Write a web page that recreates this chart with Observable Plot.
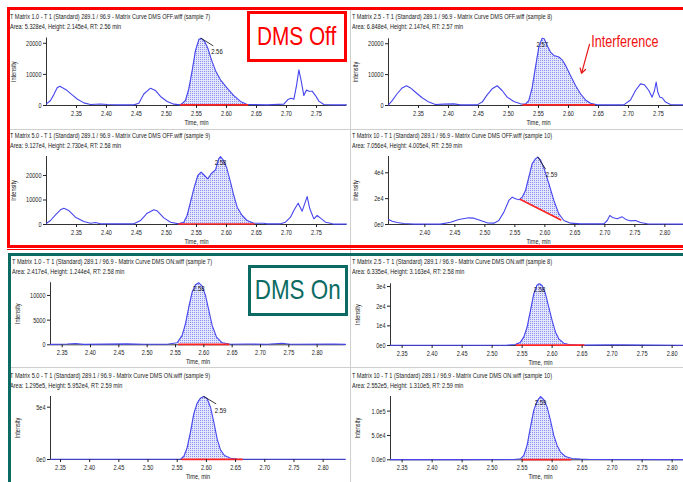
<!DOCTYPE html>
<html>
<head>
<meta charset="utf-8">
<script src="https://cdn.jsdelivr.net/npm/d3@7"></script>
<script src="https://cdn.jsdelivr.net/npm/@observablehq/plot@0.6"></script>
<style>
html,body{margin:0;padding:0;background:#fff;}
#page{position:relative;width:683px;height:482px;overflow:hidden;background:#fff;
 font-family:'Liberation Sans Narrow','Arial Narrow','Liberation Sans',Arial,sans-serif;}
.title{position:absolute;white-space:nowrap;font-size:7.5px;line-height:9.5px;color:#1a1a1a;transform-origin:0 0;}
.title span{display:inline-block;}
.sep{position:absolute;background:#cfcfcf;}
.frame{position:absolute;box-sizing:border-box;}
.tag{position:absolute;box-sizing:border-box;background:#fff;display:flex;align-items:center;justify-content:center;white-space:nowrap;}
.tag span{display:inline-block;transform:scaleX(0.8);transform-origin:50% 50%;}
</style>
</head>
<body>
<svg width="0" height="0" style="position:absolute">
 <defs>
  <pattern id="hatch" width="2" height="2" patternUnits="userSpaceOnUse">
   <rect width="2" height="2" fill="#e4e6fd"></rect>
   <rect width="1" height="1" fill="#8a91ee"></rect>
  </pattern>
 </defs>
</svg>
<div id="page"></div>
<script>
// ---------------- DATA ----------------
const titles = [
 "T Matrix 1.0 - T 1 (Standard) 289.1 / 96.9 - Matrix Curve DMS OFF.wiff (sample 7)",
 "T Matrix 2.5 - T 1 (Standard) 289.1 / 96.9 - Matrix Curve DMS OFF.wiff (sample 8)",
 "T Matrix 5.0 - T 1 (Standard) 289.1 / 96.9 - Matrix Curve DMS OFF.wiff (sample 9)",
 "T Matrix 10 - T 1 (Standard) 289.1 / 96.9 - Matrix Curve DMS OFF.wiff (sample 10)",
 "T Matrix 1.0 - T 1 (Standard) 289.1 / 96.9 - Matrix Curve DMS ON.wiff (sample 7)",
 "T Matrix 2.5 - T 1 (Standard) 289.1 / 96.9 - Matrix Curve DMS ON.wiff (sample 8)",
 "T Matrix 5.0 - T 1 (Standard) 289.1 / 96.9 - Matrix Curve DMS ON.wiff (sample 9)",
 "T Matrix 10 - T 1 (Standard) 289.1 / 96.9 - Matrix Curve DMS ON.wiff (sample 10)"
];
const infoLines = [
 "Area: 5.328e4, Height: 2.145e4, RT: 2.56 min",
 "Area: 6.848e4, Height: 2.147e4, RT: 2.57 min",
 "Area: 9.127e4, Height: 2.730e4, RT: 2.58 min",
 "Area: 7.056e4, Height: 4.005e4, RT: 2.59 min",
 "Area: 2.417e4, Height: 1.244e4, RT: 2.58 min",
 "Area: 6.335e4, Height: 3.163e4, RT: 2.58 min",
 "Area: 1.295e5, Height: 5.952e4, RT: 2.59 min",
 "Area: 2.552e5, Height: 1.310e5, RT: 2.59 min"
];
const peakLabels = ["2.56","2.57","2.58","2.59","2.58","2.58","2.59","2.59"];

const p1Time = [2.300,2.3067,2.3122,2.3178,2.3222,2.3289,2.3344,2.3428,2.3511,2.3622,2.3733,2.390,2.4011,2.4178,2.4456,2.4539,2.4622,2.4733,2.4817,2.490,2.5011,2.5122,2.5233,2.5317,2.5372,2.5428,2.5483,2.5539,2.5578,2.5633,2.5689,2.5744,2.5817,2.590,2.6011,2.6122,2.6233,2.6344,2.6678,2.6956,2.7022,2.7078,2.7122,2.7167,2.7206,2.7244,2.7289,2.7333,2.7372,2.7428,2.7483,2.7539,2.7622,2.7789,2.800];
const p1Int  = [500,1600,3500,5700,6200,5450,4800,3400,2100,850,320,500,300,200,200,750,3700,5560,4800,2900,1300,430,200,1600,5350,11200,17650,21200,21600,20650,18400,15000,11200,8250,5560,3200,1300,320,200,430,1900,2350,2000,6400,11450,8000,3200,5000,4600,4600,3200,1400,320,200,200];
const p1BaseTime = [2.524, 2.635];
const p1BaseInt  = [200, 200];

const p2Time = [2.300,2.3061,2.3144,2.3228,2.330,2.3367,2.345,2.3561,2.3672,2.3783,2.3922,2.4089,2.420,2.4478,2.4561,2.4644,2.4728,2.4811,2.4894,2.4978,2.5089,2.520,2.5283,2.5339,2.5394,2.545,2.5506,2.5561,2.560,2.5644,2.570,2.5756,2.5839,2.5894,2.595,2.6033,2.6117,2.620,2.6283,2.6367,2.6478,2.6922,2.7033,2.7117,2.720,2.7267,2.7339,2.7394,2.7433,2.7461,2.7489,2.7522,2.7561,2.7617,2.770,2.7922,2.800];
const p2Int  = [200,1600,3800,5700,6400,5700,4300,2500,1100,320,430,540,200,200,1100,3450,5400,6400,4860,2700,1300,540,430,1600,5700,12400,18900,21800,21500,19400,17300,16200,15700,14800,13000,9700,6500,3800,1800,750,200,200,1800,4860,7000,6700,4860,2700,4860,7560,4300,2700,2500,1100,320,200,200];
const p2BaseTime = [2.5244, 2.6428];
const p2BaseInt  = [200, 200];

const p3Time = [2.300,2.3067,2.315,2.3233,2.3289,2.3372,2.3483,2.3622,2.3733,2.3817,2.390,2.4456,2.4567,2.4678,2.4789,2.4844,2.4956,2.5067,2.5206,2.5289,2.5344,2.540,2.5456,2.5522,2.5578,2.5633,2.5689,2.5744,2.5817,2.5872,2.590,2.5944,2.600,2.6067,2.6122,2.6178,2.6261,2.6344,2.6456,2.6622,2.6678,2.690,2.6983,2.7067,2.7122,2.7194,2.7261,2.7344,2.7389,2.7456,2.7511,2.7567,2.765,2.7733,2.7789,2.800];
const p3Int  = [540,1630,3950,6000,6660,5700,3000,1220,540,800,270,270,1630,4600,6000,5600,2700,950,270,950,3670,9100,14550,20000,21350,20000,18600,20700,22300,26800,27750,26400,23400,17270,11830,7070,3670,1630,540,540,270,270,950,3000,5700,8700,5440,11400,6400,2300,3670,2580,950,540,140,140];
const p3BaseTime = [2.5206, 2.6456];
const p3BaseInt  = [200, 200];

const p4Time = [2.3394,2.3456,2.3539,2.365,2.3817,2.4261,2.4428,2.4567,2.4733,2.4817,2.4928,2.5039,2.515,2.5233,2.5317,2.540,2.5456,2.5511,2.5567,2.5622,2.5678,2.5733,2.5789,2.5844,2.5883,2.5928,2.5994,2.6067,2.615,2.6233,2.6317,2.6428,2.6594,2.6983,2.7039,2.7083,2.7139,2.7206,2.7289,2.7361,2.7428,2.7511,2.7594,2.7706,2.8394];
const p4Int  = [3870,2580,1550,770,260,260,1800,3870,5160,4900,3100,1290,1030,3100,9550,18600,21150,19900,19100,21150,26300,36600,47000,50800,52100,50000,42300,31500,18600,8260,3100,1030,520,520,3100,6970,5160,4390,5930,3610,2840,3100,1550,520,260];
const p4BaseTime = [2.5594, 2.6261];
const p4BaseInt  = [19350, 3610];

const p5Time = [2.3294,2.3588,2.3735,2.3882,2.4647,2.4941,2.5353,2.5529,2.5618,2.5676,2.5735,2.5794,2.5853,2.5912,2.5971,2.6029,2.6088,2.6147,2.6224,2.6324,2.6471,2.6765,2.7118,2.7382,2.7529,2.8294,2.850];
const p5Int  = [80,150,250,80,180,120,120,400,1900,4260,7640,10680,12170,12570,11900,10000,6960,3920,1550,400,120,150,100,300,100,150,80];
const p5BaseTime = [2.5559, 2.6441];
const p5BaseInt  = [100, 100];

const p6Time = [2.3306,2.400,2.470,2.525,2.5389,2.5472,2.5528,2.5583,2.5639,2.5694,2.575,2.5789,2.5833,2.5889,2.5944,2.600,2.6056,2.6111,2.6194,2.6278,2.6417,2.7028,2.7167,2.8306];
const p6Int  = [100,150,100,170,500,1700,4240,9300,17800,26300,30850,31400,30500,26300,19500,12700,6780,3390,1190,510,170,340,340,100];
const p6BaseTime = [2.5406, 2.6528];
const p6BaseInt  = [150, 150];

const p7Time = [2.3329,2.420,2.5556,2.5613,2.567,2.5727,2.5784,2.5842,2.5899,2.5956,2.6013,2.607,2.6127,2.6184,2.6241,2.631,2.6413,2.6527,2.6755,2.8383];
const p7Int  = [200,200,300,2870,11150,26100,43600,53800,58600,60200,58000,50000,35700,19700,9200,3800,1270,320,200,200];
const p7BaseTime = [2.5584, 2.6613];
const p7BaseInt  = [200, 200];

const p8Time = [2.3306,2.450,2.5361,2.5472,2.5528,2.5583,2.5639,2.5694,2.575,2.5806,2.5861,2.5917,2.5972,2.6028,2.6083,2.6139,2.6222,2.6333,2.6472,2.6639,2.8306];
const p8Int  = [300,400,700,2000,8900,29500,67100,101400,120600,130000,123300,108200,80800,50000,29500,15800,6850,2740,1370,700,300];
const p8BaseTime = [2.550, 2.6306];
const p8BaseInt  = [400, 400];

const xDomains = [[2.30,2.80],[2.30,2.80],[2.30,2.80],[2.3394,2.8394],[2.3294,2.850],[2.3306,2.8306],[2.3329,2.8383],[2.3306,2.8306]];
const yMaxes = [21700, 21600, 27750, 52600, 12570, 31400, 60200, 130000];

const xLabelsA = ["2.35","2.40","2.45","2.50","2.55","2.60","2.65","2.70","2.75"];
const xLabelsB = ["2.40","2.45","2.50","2.55","2.60","2.65","2.70","2.75","2.80"];
const xLabelsC = ["2.35","2.40","2.45","2.50","2.55","2.60","2.65","2.70","2.75","2.80"];

const yTicks10k = [0, 10000, 20000];    const yLabels10k = ["0","10000","20000"];
const yTicksP4  = [0, 20000, 40000];    const yLabelsP4  = ["0e0","2e4","4e4"];
const yTicksP5  = [0, 5000, 10000];     const yLabelsP5  = ["0","5000","10000"];
const yTicksP6  = [0, 10000, 20000, 30000]; const yLabelsP6 = ["0e0","1e4","2e4","3e4"];
const yTicksP7  = [0, 50000];           const yLabelsP7  = ["0e0","5e4"];
const yTicksP8  = [0, 50000, 100000];   const yLabelsP8  = ["0.0e0","5.0e4","1.0e5"];

const interferenceText = ["Interference"];
const interferenceTextAt = [2.638, 20700];
const interferenceArrowT = [2.635, 2.6217];
const interferenceArrowV = [19800, 10400];

// ---------------- LAYOUT ----------------
const fontStack = "'Liberation Sans Narrow','Arial Narrow','Liberation Sans',Arial,sans-serif";
const layout = [
 {svgLeft:0,   axisX:46,  right:346, top:37.5,  bottom:105,   titleX:10,  titleY:12,  mode:"leader", leader:{len:13.8, rot:122, dx:10, dy:13}},
 {svgLeft:346, axisX:388, right:688, top:38.3,  bottom:105,   titleX:352, titleY:12,  mode:"over"},
 {svgLeft:0,   axisX:46,  right:346, top:156,   bottom:224,   titleX:10,  titleY:131, mode:"over"},
 {svgLeft:346, axisX:388, right:688, top:156,   bottom:224,   titleX:352, titleY:131, mode:"leader", leader:{len:14, rot:147, dx:8, dy:17}},
 {svgLeft:0,   axisX:50,  right:345, top:282.3, bottom:344.3, titleX:12,  titleY:257, mode:"over"},
 {svgLeft:346, axisX:390, right:690, top:283.3, bottom:345,   titleX:352, titleY:257, mode:"over"},
 {svgLeft:0,   axisX:50,  right:345, top:396,   bottom:459,   titleX:10,  titleY:371, mode:"leader", leader:{len:14, rot:121, dx:11, dy:14}},
 {svgLeft:346, axisX:390, right:690, top:396,   bottom:459.3, titleX:352, titleY:371, mode:"over"}
];

const series = [
 {time:p1Time, value:p1Int, baseT:p1BaseTime, baseV:p1BaseInt, xLabels:xLabelsA, yTicks:yTicks10k, yLabels:yLabels10k},
 {time:p2Time, value:p2Int, baseT:p2BaseTime, baseV:p2BaseInt, xLabels:xLabelsA, yTicks:yTicks10k, yLabels:yLabels10k},
 {time:p3Time, value:p3Int, baseT:p3BaseTime, baseV:p3BaseInt, xLabels:xLabelsA, yTicks:yTicks10k, yLabels:yLabels10k},
 {time:p4Time, value:p4Int, baseT:p4BaseTime, baseV:p4BaseInt, xLabels:xLabelsB, yTicks:yTicksP4, yLabels:yLabelsP4},
 {time:p5Time, value:p5Int, baseT:p5BaseTime, baseV:p5BaseInt, xLabels:xLabelsC, yTicks:yTicksP5, yLabels:yLabelsP5},
 {time:p6Time, value:p6Int, baseT:p6BaseTime, baseV:p6BaseInt, xLabels:xLabelsC, yTicks:yTicksP6, yLabels:yLabelsP6},
 {time:p7Time, value:p7Int, baseT:p7BaseTime, baseV:p7BaseInt, xLabels:xLabelsC, yTicks:yTicksP7, yLabels:yLabelsP7},
 {time:p8Time, value:p8Int, baseT:p8BaseTime, baseV:p8BaseInt, xLabels:xLabelsC, yTicks:yTicksP8, yLabels:yLabelsP8}
];

function interp(ts, vs, t) {
  for (let i = 1; i < ts.length; i++) {
    if (ts[i] >= t) { const f = (t - ts[i-1]) / (ts[i] - ts[i-1]); return vs[i-1] + f * (vs[i] - vs[i-1]); }
  }
  return vs[vs.length - 1];
}
const leaderShape = { draw(ctx, l) { ctx.moveTo(0, 0); ctx.lineTo(0, -l); } };

// mimic the narrow typeface of the original software's labels
function narrowTexts(svg) {
  svg.querySelectorAll("text").forEach(el => {
    const big = +el.getAttribute("font-size") >= 14;
    const f = big ? 0.92 : 0.74;
    const L = el.getComputedTextLength();
    if (L > 0) {
      el.setAttribute("textLength", (L * f).toFixed(2));
      el.setAttribute("lengthAdjust", "spacingAndGlyphs");
    }
  });
}

const page = document.getElementById("page");

series.forEach((s, k) => {
  const g = layout[k];
  const svgTop = Math.floor(g.top - 12);
  const mt = g.top - svgTop, mb = 24;
  const width = g.right - g.svgLeft;
  const height = Math.round(mt + (g.bottom - g.top) + mb);
  const pts = s.time.map((t, i) => ({t, v: s.value[i]}));
  const baseAt = t => s.baseV[0] + (t - s.baseT[0]) / (s.baseT[1] - s.baseT[0]) * (s.baseV[1] - s.baseV[0]);
  const area = [s.baseT[0], ...s.time.filter(t => t > s.baseT[0] && t < s.baseT[1]), s.baseT[1]]
    .map(t => ({t, v: interp(s.time, s.value, t), b: baseAt(t)}));
  const base = s.baseT.map((t, i) => ({t, v: s.baseV[i]}));
  const iMax = d3.maxIndex(s.value);
  const peak = [{t: s.time[iMax], v: s.value[iMax], label: peakLabels[k]}];
  const xTicks = s.xLabels.map(Number);
  const xFmt = new Map(xTicks.map((d, i) => [d, s.xLabels[i]]));
  const yFmt = new Map(s.yTicks.map((d, i) => [d, s.yLabels[i]]));

  const marks = [
    Plot.areaY(area, {x: "t", y1: "b", y2: "v", fill: "url(#hatch)"}),
    Plot.ruleX([xDomains[k][0]], {stroke: "#333"}),
    Plot.ruleY([0], {stroke: "#333"}),
    Plot.line(pts, {x: "t", y: "v", stroke: "#4646ee", strokeWidth: 1.1}),
    Plot.line(base, {x: "t", y: "v", stroke: "#ff2424", strokeWidth: 1.7}),
    Plot.axisY(s.yTicks, {tickFormat: d => yFmt.get(d), tickSize: 3, tickPadding: 2, label: "Intensity",
      labelAnchor: "center", labelOffset: 36, labelArrow: false}),
    Plot.axisX(xTicks, {tickFormat: d => xFmt.get(d), tickSize: 3, tickPadding: 2, label: "Time, min",
      labelAnchor: "center", labelOffset: 19.5, labelArrow: false})
  ];
  if (g.mode === "leader") {
    marks.push(Plot.vector(peak, {x: "t", y: "v", length: g.leader.len, rotate: g.leader.rot, anchor: "start",
      stroke: "#222", strokeWidth: 0.8, shape: leaderShape}));
    marks.push(Plot.text(peak, {x: "t", y: "v", text: "label", dx: g.leader.dx, dy: g.leader.dy,
      textAnchor: "start", fill: "#111", fontSize: 8}));
  } else {
    marks.push(Plot.text(peak, {x: "t", y: "v", text: "label", dy: 6, fill: "#111", fontSize: 8}));
  }
  if (k === 1) {
    marks.push(Plot.arrow([{t1: interferenceArrowT[0], v1: interferenceArrowV[0], t2: interferenceArrowT[1], v2: interferenceArrowV[1]}],
      {x1: "t1", y1: "v1", x2: "t2", y2: "v2", stroke: "#e81414", strokeWidth: 1.2, headLength: 7}));
    marks.push(Plot.text([{t: interferenceTextAt[0], v: interferenceTextAt[1], s: interferenceText[0]}],
      {x: "t", y: "v", text: "s", textAnchor: "start", fill: "#f01010", fontSize: 17}));
  }

  const chart = Plot.plot({
    width, height,
    marginLeft: g.axisX - g.svgLeft, marginRight: 0, marginTop: mt, marginBottom: height - mt - (g.bottom - g.top),
    x: {domain: xDomains[k]},
    y: {domain: [0, yMaxes[k]]},
    style: {fontFamily: fontStack, fontSize: "7.5px", color: "#222", background: "transparent", overflow: "visible"},
    marks
  });
  chart.style.position = "absolute";
  chart.style.left = g.svgLeft + "px";
  chart.style.top = svgTop + "px";
  page.appendChild(chart);
  narrowTexts(chart);

  const t = document.createElement("div");
  t.className = "title";
  t.style.left = g.titleX + "px";
  t.style.top = g.titleY + "px";
  const l1 = document.createElement("div"); const s1 = document.createElement("span"); s1.textContent = titles[k]; l1.appendChild(s1);
  const l2 = document.createElement("div"); const s2 = document.createElement("span"); s2.textContent = infoLines[k]; l2.appendChild(s2);
  t.appendChild(l1); t.appendChild(l2);
  page.appendChild(t);
  const w = s1.getBoundingClientRect().width;
  if (w > 0) t.style.transform = `scaleX(${(200 / w).toFixed(3)})`;
});

function addDiv(cls, css, text) {
  const d = document.createElement("div");
  d.className = cls;
  Object.assign(d.style, css);
  if (text) { const sp = document.createElement("span"); sp.textContent = text; d.appendChild(sp); }
  page.appendChild(d);
  return d;
}
// separators
addDiv("sep", {left: "350px", top: "10px", width: "1px", height: "472px"});
addDiv("sep", {left: "10px", top: "129px", width: "673px", height: "1px"});
addDiv("sep", {left: "11px", top: "367px", width: "672px", height: "1px"});
// group frames
addDiv("frame", {left: "7px", top: "7px", width: "690px", height: "240.5px", border: "3px solid #ff0000"});
addDiv("frame", {left: "7px", top: "248.5px", width: "690px", height: "1px", background: "#ff0000"});
addDiv("frame", {left: "8px", top: "252.5px", width: "690px", height: "240px", border: "3px solid #0b6b63"});
// tags
addDiv("tag", {left: "247px", top: "10.5px", width: "100px", height: "51px", border: "3px solid #ff0000",
  color: "#ff0000", fontSize: "26px"}, "DMS Off");
addDiv("tag", {left: "248px", top: "264.5px", width: "100px", height: "51px", border: "3px solid #0b6b63",
  color: "#0b6b63", fontSize: "28px"}, "DMS On");
</script>
</body>
</html>
